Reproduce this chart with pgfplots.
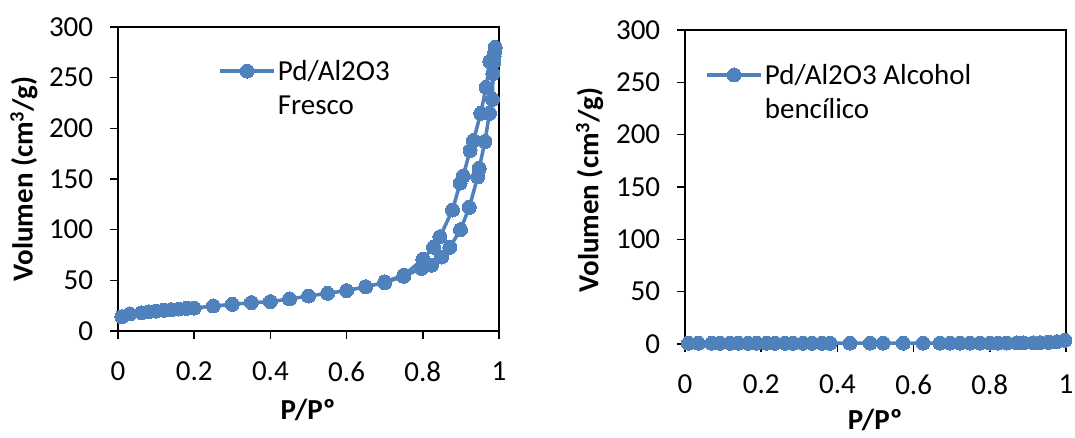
\documentclass[border=0pt]{standalone}
\usepackage{fontspec}
\setmainfont{Carlito}
\usepackage{pgfplots}
\pgfplotsset{compat=1.18}
\definecolor{serie}{HTML}{4F81BD}
\begin{document}
\fontsize{29pt}{34pt}\selectfont
\begin{tikzpicture}[x=1pt,y=1pt]
\useasboundingbox (0,0) rectangle (1075,438);
\pgfplotsset{
  myaxis/.style={
    scale only axis,
    width=381pt,
    xmin=0, xmax=1, ymin=0, ymax=300,
    xtick={0,0.2,0.4,0.6,0.8,1},
    xticklabels={0,0.2,0.4,0.6,0.8,1},
    ytick={0,50,100,150,200,250,300},
    tick align=outside,
    major tick length=8pt,
    tick style={black, line width=1.6pt},
    axis line style={black, line width=1.6pt},
    xtick pos=bottom, ytick pos=left,
    tick label style={font=\fontsize{29pt}{34pt}\selectfont},
    xticklabel style={yshift=-13pt},
    yticklabel style={xshift=-7pt},
    /pgf/number format/assume math mode=true,
    label style={font=\fontsize{29pt}{34pt}\selectfont\bfseries},
    ylabel={Volumen (cm\textsuperscript{3}/g)},
    xlabel={P/Pº},
    clip=false,
    legend style={draw=none, fill=none, anchor=north west,
      font=\fontsize{29pt}{34pt}\selectfont, cells={anchor=west}},
    legend cell align=left,
    legend image code/.code={\draw[##1,mark repeat=2,mark phase=2] plot coordinates {(0pt,0pt) (27pt,0pt) (54pt,0pt)};},
  },
  myplot/.style={color=serie, line width=3.5pt, mark=*, mark size=7pt,
    mark options={fill=serie, draw=serie, line width=0pt}},
}
\begin{axis}[myaxis, at={(118pt,107pt)}, anchor=south west, height=304pt,
  ylabel style={at={(axis description cs:-0.247,0.50)}, anchor=center},
  xlabel style={at={(axis description cs:0.499,-0.26)}, anchor=center},
  legend style={at={(axis description cs:0.255,0.915)}}]
\addplot[myplot] coordinates {
(0.01,14.1) (0.031,16.8) (0.062,18) (0.08,19) (0.10,19.7) (0.12,20.4) (0.14,21) (0.16,21.7) (0.18,22.3) (0.20,22.6)
(0.25,24.7) (0.30,26.3) (0.35,28) (0.40,29) (0.45,31.6) (0.50,34.5) (0.55,37.2) (0.60,39.8) (0.65,43.7) (0.70,47.7)
(0.75,54) (0.797,61.8) (0.823,65) (0.849,73) (0.871,82.6) (0.899,100) (0.922,122) (0.944,152) (0.948,160.5)
(0.963,187) (0.975,214.8) (0.983,228.6) (0.984,254) (0.986,265) (0.99,280)
(0.989,276) (0.987,271) (0.976,265.8) (0.966,240.4) (0.952,214.8) (0.933,188) (0.924,178) (0.906,153) (0.898,146)
(0.878,119.4) (0.845,93) (0.828,82.6) (0.80,70.7) (0.75,55) (0.70,48.5)
};
\addlegendentry{\begin{tabular}[t]{@{}l@{}}Pd/Al2O3\\Fresco\end{tabular}}
\end{axis}
\begin{axis}[myaxis, at={(685pt,94pt)}, anchor=south west, height=314pt,
  ylabel style={at={(axis description cs:-0.25,0.49)}, anchor=center},
  xlabel style={at={(axis description cs:0.499,-0.243)}, anchor=center},
  legend style={at={(axis description cs:0.045,0.915)}}]
\addplot[myplot] coordinates {
(0.009,0.7) (0.035,0.7) (0.070,0.7) (0.092,0.7) (0.118,0.7) (0.14,0.7) (0.166,0.7) (0.188,0.7) (0.214,0.7) (0.236,0.7)
(0.262,0.7) (0.284,0.7) (0.31,0.7) (0.333,0.7) (0.359,0.7) (0.381,0.7) (0.433,0.8) (0.486,0.8) (0.52,0.8) (0.573,0.8)
(0.625,0.8) (0.669,0.8) (0.696,0.8) (0.722,0.8) (0.748,0.8) (0.774,0.9) (0.80,0.9) (0.822,0.9) (0.844,0.9) (0.871,1.0)
(0.888,1.0) (0.914,1.1) (0.932,1.3) (0.954,1.6) (0.976,2.2) (0.997,3.5)
};
\addlegendentry{\begin{tabular}[t]{@{}l@{}}Pd/Al2O3 Alcohol\\bencílico\end{tabular}}
\end{axis}
\end{tikzpicture}
\end{document}
